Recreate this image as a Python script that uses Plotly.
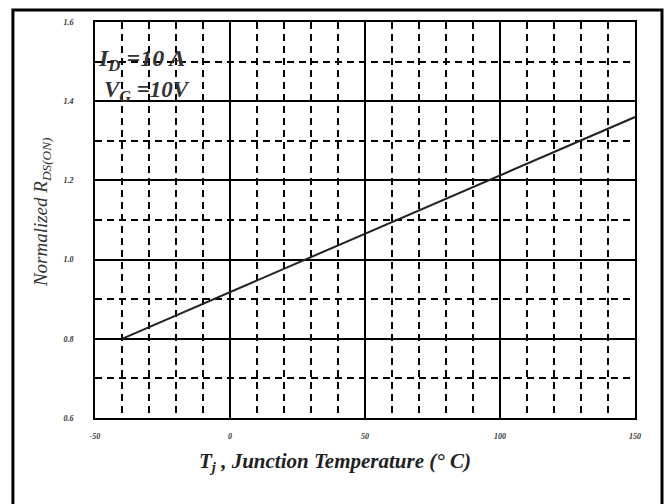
import plotly.graph_objects as go

# junction temperature (deg C) vs normalized on-resistance
temp_c = [-40, 150]
rds_norm = [0.80, 1.36]

x_ticks = [-50, 0, 50, 100, 150]
x_labels = ["-50", "0", "50", "100", "150"]
y_ticks = [0.6, 0.8, 1.0, 1.2, 1.4, 1.6]
y_labels = ["0.6", "0.8", "1.0", "1.2", "1.4", "1.6"]

serif = "Liberation Serif, Times New Roman, serif"

fig = go.Figure()

fig.add_trace(go.Scatter(
    x=temp_c,
    y=rds_norm,
    mode="lines",
    line=dict(color="#222222", width=2),
    showlegend=False,
    hoverinfo="skip"
))

tick_font = dict(family=serif, size=8, color="#333333", weight="bold", style="italic")

fig.update_layout(
    width=667,
    height=504,
    paper_bgcolor="white",
    plot_bgcolor="white",
    margin=dict(l=95, r=32, t=22, b=86),
    xaxis=dict(
        range=[-50, 150],
        tickvals=x_ticks,
        ticktext=x_labels,
        tickfont=tick_font,
        ticks="",
        ticklabelstandoff=9,
        showgrid=True,
        gridcolor="black",
        gridwidth=1.5,
        minor=dict(dtick=10, showgrid=True, gridcolor="black", gridwidth=1.5,
                   griddash="7px,5px"),
        showline=True,
        linecolor="black",
        linewidth=2,
        mirror=True,
        zeroline=False
    ),
    yaxis=dict(
        range=[0.6, 1.6],
        tickvals=y_ticks,
        ticktext=y_labels,
        tickfont=tick_font,
        ticks="",
        ticklabelstandoff=18,
        showgrid=True,
        gridcolor="black",
        gridwidth=1.5,
        minor=dict(dtick=0.1, showgrid=True, gridcolor="black", gridwidth=1.5,
                   griddash="7px,5px"),
        showline=True,
        linecolor="black",
        linewidth=2,
        mirror=True,
        zeroline=False
    )
)

# outer frame around the whole figure
fig.add_shape(
    type="rect",
    xref="paper", yref="paper",
    x0=-0.152, x1=1.05, y0=-0.23, y1=1.03,
    line=dict(color="black", width=3),
    fillcolor="rgba(0,0,0,0)"
)

fig.add_annotation(
    xref="paper", yref="paper",
    x=-0.124, y=0.52,
    text="Normalized R<sub>DS(ON)</sub>",
    textangle=-90,
    showarrow=False,
    font=dict(family=serif, size=19, color="#333333", style="italic")
)

fig.add_annotation(
    xref="paper", yref="paper",
    x=0.445, y=-0.148,
    text="T<sub>j</sub> , Junction Temperature (° C)",
    showarrow=False,
    font=dict(family=serif, size=21, color="#222222", weight="bold", style="italic")
)

fig.add_annotation(
    xref="paper", yref="paper",
    x=0.002, y=0.947,
    xanchor="left",
    text="I<sub>D</sub> =10 A",
    showarrow=False,
    font=dict(family=serif, size=24, color="#333333", weight="bold", style="italic")
)

fig.add_annotation(
    xref="paper", yref="paper",
    x=0.013, y=0.866,
    xanchor="left",
    text="V<sub>G</sub> =10V",
    showarrow=False,
    font=dict(family=serif, size=23, color="#333333", weight="bold", style="italic")
)

# drop the default page margin so the figure sits at the window corner
fig.write_html("out.html", config={"displayModeBar": False},
               post_script="document.body.style.margin='0';")
